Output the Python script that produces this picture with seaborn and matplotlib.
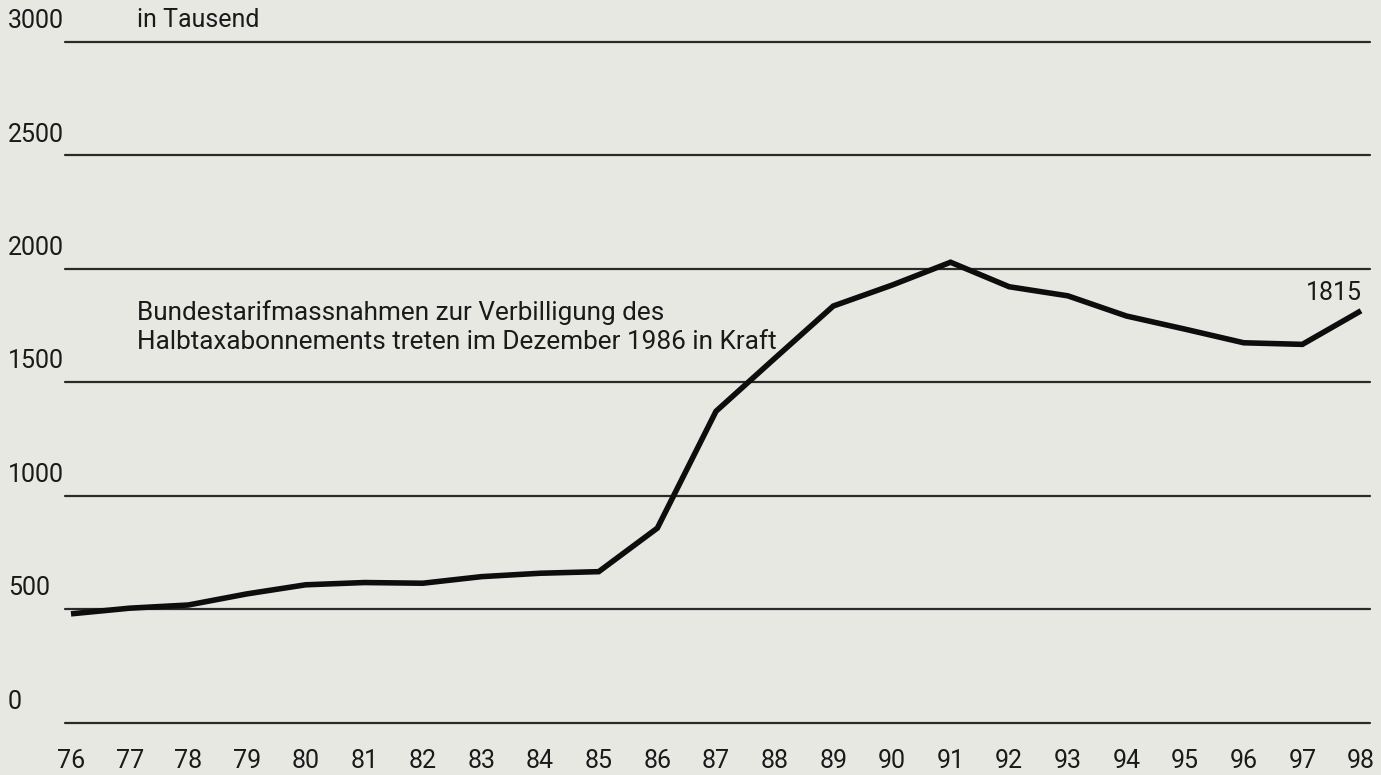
import matplotlib
matplotlib.use("Agg")
import matplotlib.pyplot as plt
import seaborn as sns
import pandas as pd

years = list(range(76, 99))
year_labels = [str(y) for y in years]
values = [479, 504, 518, 567, 607, 617, 614, 643, 658, 665, 857, 1372, 1605,
          1836, 1928, 2029, 1921, 1881, 1792, 1734, 1674, 1667, 1815]
y_ticks = [0, 500, 1000, 1500, 2000, 2500, 3000]
unit_label = "in Tausend"
note_text = "Bundestarifmassnahmen zur Verbilligung des\nHalbtaxabonnements treten im Dezember 1986 in Kraft"
end_label = "1815"

bg = "#e8e8e3"
txt_col = "#1a1a1a"
sns.set_theme(style="white")
fam = ["Roboto", "DejaVu Sans"]
plt.rcParams["font.family"] = fam
FS = 18

df = pd.DataFrame({"year": years, "value": values})

fig = plt.figure(figsize=(13.81, 7.75), dpi=100, facecolor=bg)
W, H = 1381, 775
# axes pixel box: left 65, right 1370, y=0 at 722.5, y=3000 at 42
ax = fig.add_axes([65 / W, (H - 722.5) / H, 1305 / W, (722.5 - 42) / H])
ax.set_facecolor(bg)

px_per_year = (1361 - 71) / 22
ax.set_xlim(76 - 6 / px_per_year, 98 + 9 / px_per_year)
ax.set_ylim(0, 3000)

for t in y_ticks:
    ax.axhline(t, color="#2a2a2a", lw=1.6, zorder=1, clip_on=False)

sns.lineplot(data=df, x="year", y="value", ax=ax, color="#0d0d0d", lw=4.0,
             zorder=3, solid_joinstyle="miter", solid_capstyle="butt")

for s in ax.spines.values():
    s.set_visible(False)
ax.set_xlabel("")
ax.set_ylabel("")
ax.set_xticks(years)
ax.set_xticklabels(year_labels)
ax.tick_params(axis="x", length=0, pad=19, labelsize=FS, colors=txt_col)
ax.set_yticks([])

# y labels above gridlines at left
ytr = ax.get_yaxis_transform()
for t in y_ticks:
    ax.annotate(str(t), xy=((8 - 65) / 1305, t), xycoords=ytr, xytext=(0, 15),
                textcoords="offset points", fontsize=FS, color=txt_col,
                ha="left", va="center", annotation_clip=False)

fig.text(137 / W, (H - 20) / H, unit_label, fontsize=FS, color=txt_col,
         ha="left", va="center")

fig.text(137 / W, (H - 327) / H, note_text, fontsize=18.8, color=txt_col,
         ha="left", va="center", linespacing=1.22)

ax.annotate(end_label, xy=(years[-1], values[-1]), xytext=(1, 13), textcoords="offset points",
            ha="right", va="center", fontsize=FS, color=txt_col, annotation_clip=False)

fig.savefig("out.png", dpi=100, facecolor=bg)
